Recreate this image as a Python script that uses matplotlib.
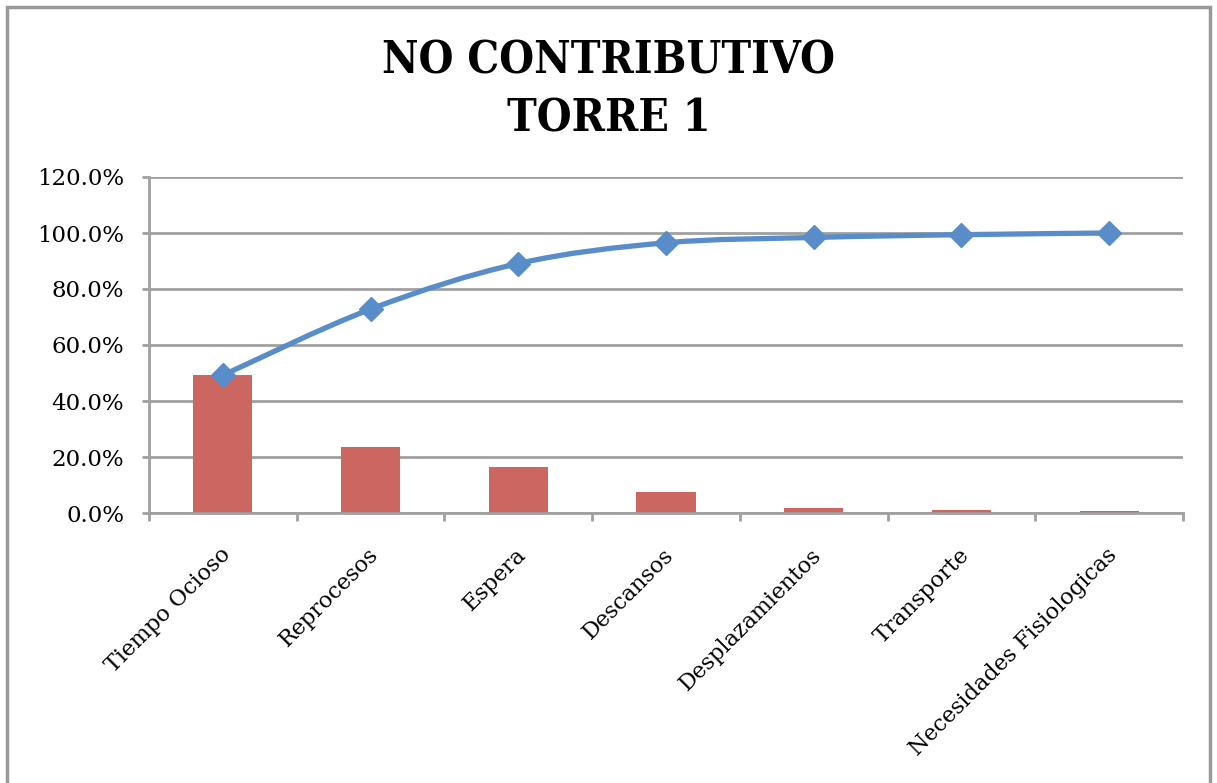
import matplotlib
matplotlib.use("Agg")
import matplotlib.pyplot as plt
import numpy as np
from matplotlib.path import Path
from matplotlib.patches import PathPatch, Rectangle
from matplotlib.ticker import FuncFormatter, FixedLocator, NullFormatter

# data (percent)
categories = ["Tiempo Ocioso", "Reprocesos", "Espera", "Descansos",
              "Desplazamientos", "Transporte", "Necesidades Fisiologicas"]
porcentaje = [49.2, 23.6, 16.3, 7.4, 1.9, 1.0, 0.6]
acumulado = [49.2, 72.8, 89.1, 96.5, 98.4, 99.4, 100.0]
yticks = [0, 20, 40, 60, 80, 100, 120]

bar_color = "#CB6660"
line_color = "#588DCA"
grid_color = "#A0A0A0"

fig = plt.figure(figsize=(12.17, 7.83), dpi=100)
ax = fig.add_axes([149 / 1217, 1 - 513 / 783, 1034 / 1217, 336 / 783])

x = np.arange(len(categories))
ax.bar(x, porcentaje, width=0.4, color=bar_color, zorder=2)


def smooth_path(xs, ys):
    # catmull-rom style smoothing like Excel's smoothed line
    pts = list(zip(xs, ys))
    verts = [pts[0]]
    codes = [Path.MOVETO]
    n = len(pts)
    for i in range(n - 1):
        p0 = pts[i - 1] if i > 0 else pts[i]
        p1 = pts[i]
        p2 = pts[i + 1]
        p3 = pts[i + 2] if i + 2 < n else pts[i + 1]
        c1 = (p1[0] + (p2[0] - p0[0]) / 6, p1[1] + (p2[1] - p0[1]) / 6)
        c2 = (p2[0] - (p3[0] - p1[0]) / 6, p2[1] - (p3[1] - p1[1]) / 6)
        verts += [c1, c2, p2]
        codes += [Path.CURVE4] * 3
    return Path(verts, codes)


ax.add_patch(PathPatch(smooth_path(x, acumulado), facecolor="none",
                       edgecolor=line_color, lw=3.8, zorder=3, capstyle="round"))
ax.plot(x, acumulado, linestyle="none", marker="D", markersize=12.5,
        color=line_color, zorder=4)

ax.set_xlim(-0.5, len(categories) - 0.5)
ax.set_ylim(0, 120)
ax.yaxis.set_major_locator(FixedLocator(yticks))
ax.yaxis.set_major_formatter(FuncFormatter(lambda v, p: f"{v:.1f}%"))
ax.grid(axis="y", color=grid_color, lw=2, zorder=1)
ax.set_axisbelow(True)

# category ticks between bars, labels at bar centres
ax.xaxis.set_major_locator(FixedLocator(np.arange(len(categories) + 1) - 0.5))
ax.xaxis.set_major_formatter(NullFormatter())
ax.tick_params(axis="x", length=6, width=2, color=grid_color)
ax.tick_params(axis="y", length=5, width=2, color=grid_color, pad=13,
               labelsize=16.5)
for lab in ax.get_yticklabels():
    lab.set_family("DejaVu Serif")

for i, name in enumerate(categories):
    ax.text(i - 0.02, -11, name, rotation=45, ha="right", va="top",
            rotation_mode="anchor", fontsize=16, family="DejaVu Serif")

for side in ["top", "right"]:
    ax.spines[side].set_visible(False)
ax.spines["left"].set_color(grid_color)
ax.spines["left"].set_linewidth(2)
ax.spines["bottom"].set_color(grid_color)
ax.spines["bottom"].set_linewidth(2)

fig.text(0.5, 1 - 90 / 783, "NO CONTRIBUTIVO\nTORRE 1", ha="center", va="center",
         fontsize=32, fontweight="bold", family="DejaVu Serif",
         fontstretch="condensed", linespacing=1.45)

fig.patches.append(Rectangle((7 / 1217, -0.1), 1203 / 1217, 1.1 - 7 / 783,
                             transform=fig.transFigure, fill=False,
                             edgecolor="#999999", lw=2.5))

fig.savefig("out.png", dpi=100)
